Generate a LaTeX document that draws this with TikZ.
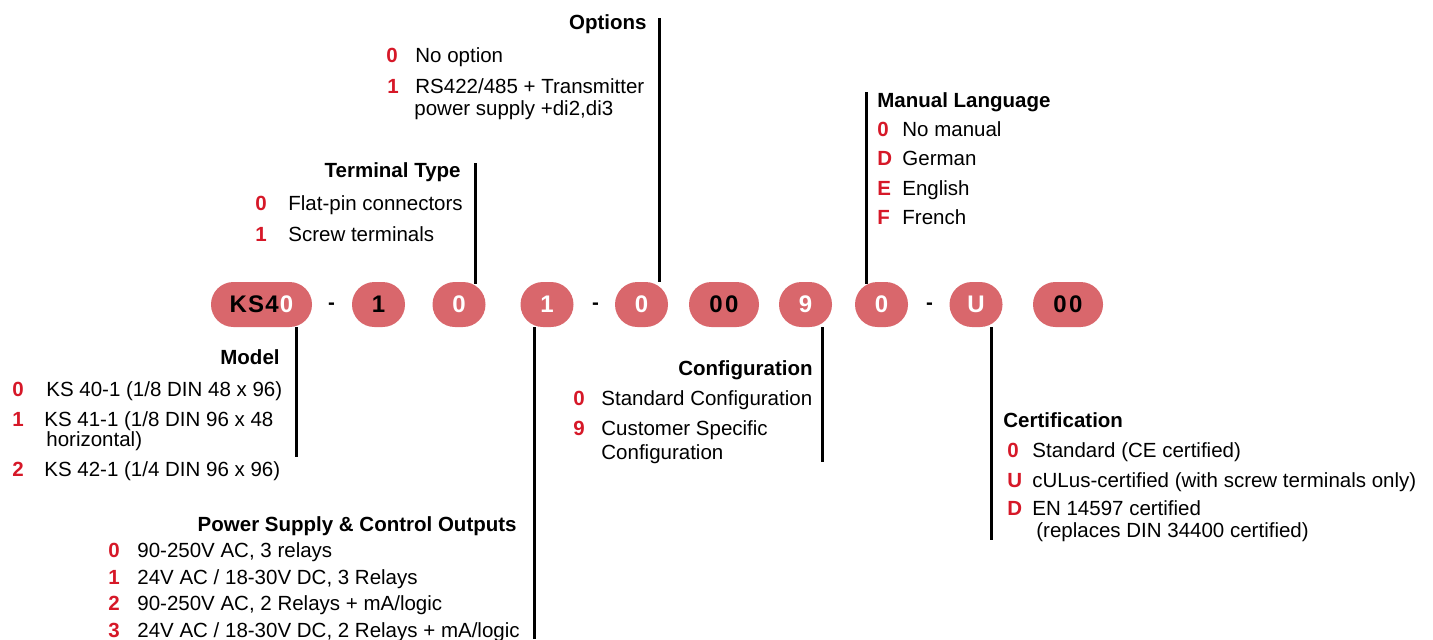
\documentclass[tikz,border=0pt]{standalone}
\usepackage{fontspec}
\setmainfont{Liberation Sans}
\usepackage{tikz}
\definecolor{pillred}{RGB}{217,103,108}
\definecolor{codered}{RGB}{214,24,40}
\tikzstyle{order}=[x=0.5pt,y=-0.5pt]
\tikzstyle{pill}=[rectangle,rounded corners=11.2pt,inner sep=0pt,fill=pillred,minimum height=22.5pt,minimum width=26.5pt,font=\bfseries\fontsize{12}{12}\selectfont]
\tikzstyle{wide}=[minimum width=35pt]
\tikzstyle{sep}=[inner sep=0pt,anchor=base,font=\bfseries\fontsize{10.25}{12}\selectfont]
\tikzstyle{head}=[inner sep=0pt,font=\bfseries\fontsize{10.25}{12}\selectfont]
\tikzstyle{code}=[inner sep=0pt,anchor=base west,text=codered,font=\bfseries\fontsize{10.25}{12}\selectfont]
\tikzstyle{entry}=[inner sep=0pt,anchor=base west,font=\fontsize{10.25}{12}\selectfont]
\tikzstyle{pipe}=[-,line width=1.5pt]
\begin{document}
\begin{tikzpicture}[order]
				\useasboundingbox (0,0) rectangle (1433,639);
				
				%The order code
				\draw (261.5,304.5) node[pill,minimum width=50.5pt] (ks) {K\kern0.6pt S\kern0.6pt 4\kern0.6pt\textcolor{white}{0}};
				\draw (331.5,309) node[sep] (d1) {-};
				\draw (378.5,304.5) node[pill] (p2) {1};
				\draw (459,304.5) node[pill,text=white] (p3) {0};
				\draw (547,304.5) node[pill,text=white] (p4) {1};
				\draw (595.5,309) node[sep] (d2) {-};
				\draw (641.5,304.5) node[pill,text=white] (p5) {0};
				\draw (724,304.5) node[pill,wide] (p6) {0\kern1.2pt 0};
				\draw (805.5,304.5) node[pill,text=white] (p7) {9};
				\draw (881.5,304.5) node[pill,text=white] (p8) {0};
				\draw (929.5,309) node[sep] (d3) {-};
				\draw (976,304.5) node[pill,text=white] (p9) {U};
				\draw (1068,304.5) node[pill,wide] (p10) {0\kern1.2pt 0};
				
				%The Options
				\draw (647,29) node[head,anchor=base east] (opt) {Options};
				\draw (386,62) node[code] (opt0) {0};
				\draw (415,62) node[entry] (optt0) {No option};
				\draw (387,93) node[code] (opt1) {1};
				\draw (415,93) node[entry] (optt1) {RS422/485 + Transmitter};
				\draw (414,115) node[entry] (optt1b) {power supply +di2,di3};
				\coordinate (optend) at (659,18);
				\draw[pipe] (optend) -- (optend |- p5.north);
				
				%The Terminal Type
				\draw (461,177) node[head,anchor=base east] (term) {Terminal Type};
				\draw (255,210) node[code] (term0) {0};
				\draw (288,210) node[entry] (termt0) {Flat-pin connectors};
				\draw (255,241) node[code] (term1) {1};
				\draw (288,241) node[entry] (termt1) {Screw terminals};
				\coordinate (termend) at (475,163);
				\draw[pipe] (termend) -- ([yshift=-1pt]termend |- p3.north);
				
				%The Manual Language
				\draw (877,107) node[head,anchor=base west] (man) {Manual Language};
				\draw (877,136) node[code] (man0) {0};
				\draw (902,136) node[entry] (mant0) {No manual};
				\draw (877,165) node[code] (man1) {D};
				\draw (902,165) node[entry] (mant1) {German};
				\draw (877,195) node[code] (man2) {E};
				\draw (902,195) node[entry] (mant2) {English};
				\draw (877,224) node[code] (man3) {F};
				\draw (902,224) node[entry] (mant3) {French};
				\coordinate (manend) at (866,92);
				\draw[pipe] (manend) -- ([yshift=-1pt]manend |- p8.north);
				
				%The Model
				\draw (280,364) node[head,anchor=base east] (mod) {Model};
				\draw (12,396) node[code] (mod0) {0};
				\draw (46,396) node[entry] (modt0) {KS 40-1 (1/8 DIN 48 x 96)};
				\draw (12,426) node[code] (mod1) {1};
				\draw (44,426) node[entry] (modt1) {KS 41-1 (1/8 DIN 96 x 48};
				\draw (46,446) node[entry] (modt1b) {horizontal)};
				\draw (12,476) node[code] (mod2) {2};
				\draw (44,476) node[entry] (modt2) {KS 42-1 (1/4 DIN 96 x 96)};
				\coordinate (modend) at (296,457);
				\draw[pipe] (modend |- ks.south) -- (modend);
				
				%The Configuration
				\draw (813,375) node[head,anchor=base east] (conf) {Configuration};
				\draw (573,405) node[code] (conf0) {0};
				\draw (601,405) node[entry] (conft0) {Standard Configuration};
				\draw (573,435) node[code] (conf1) {9};
				\draw (601,435) node[entry] (conft1) {Customer Specific};
				\draw (601,459) node[entry] (conft1b) {Configuration};
				\coordinate (confend) at (822,462);
				\draw[pipe] (confend |- p7.south) -- (confend);
				
				%The Power Supply
				\draw (517,531) node[head,anchor=base east] (pow) {Power Supply \& Control Outputs};
				\draw (108,557) node[code] (pow0) {0};
				\draw (137,557) node[entry] (powt0) {90-250V AC, 3 relays};
				\draw (108,584) node[code] (pow1) {1};
				\draw (137,584) node[entry] (powt1) {24V AC / 18-30V DC, 3 Relays};
				\draw (108,610) node[code] (pow2) {2};
				\draw (137,610) node[entry] (powt2) {90-250V AC, 2 Relays + mA/logic};
				\draw (108,637) node[code] (pow3) {3};
				\draw (137,637) node[entry] (powt3) {24V AC / 18-30V DC, 2 Relays + mA/logic};
				\coordinate (powend) at (534,639);
				\draw[pipe] (powend |- p4.south) -- (powend);
				
				%The Certification
				\draw (1003,427) node[head,anchor=base west] (cert) {Certification};
				\draw (1007,457) node[code] (cert0) {0};
				\draw (1032,457) node[entry] (certt0) {Standard (CE certified)};
				\draw (1007,487) node[code] (cert1) {U};
				\draw (1032,487) node[entry] (certt1) {cULus-certified (with screw terminals only)};
				\draw (1007,515) node[code] (cert2) {D};
				\draw (1032,515) node[entry] (certt2) {EN 14597 certified};
				\draw (1036,537) node[entry] (certt2b) {(replaces DIN 34400 certified)};
				\coordinate (certend) at (991,540);
				\draw[pipe] (certend |- p9.south) -- (certend);
			\end{tikzpicture}
\end{document}
